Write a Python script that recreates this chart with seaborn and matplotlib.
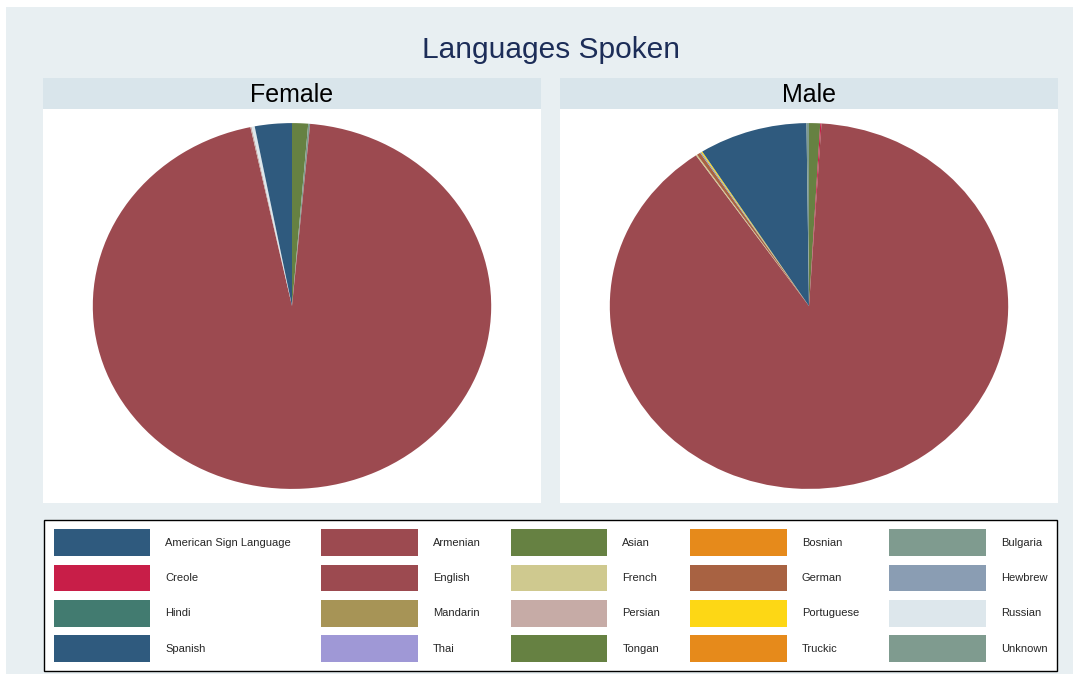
import matplotlib
matplotlib.use("Agg")
import matplotlib.pyplot as plt
import matplotlib.patches as mpatches
import seaborn as sns

sns.set_style("white")
plt.rcParams['font.family'] = ['Liberation Sans', 'DejaVu Sans']

languages = ["American Sign Language", "Armenian", "Asian", "Bosnian", "Bulgaria",
             "Creole", "English", "French", "German", "Hewbrew",
             "Hindi", "Mandarin", "Persian", "Portuguese", "Russian",
             "Spanish", "Thai", "Tongan", "Truckic", "Unknown"]
colors_hex = ["#2f5a7e", "#9c4a50", "#668142", "#e68a1b", "#7f9b8f",
              "#c81e48", "#9c4a50", "#cfc98f", "#a86242", "#8a9db3",
              "#427b70", "#a79456", "#c6aba6", "#fdd715", "#dde7ec",
              "#2f5a7e", "#9f98d6", "#668142", "#e68a1b", "#7f9b8f"]
female = [0, 0, 1.3, 0, 0.15,
          0, 95.2, 0, 0, 0,
          0, 0, 0.1, 0, 0.25,
          3.0, 0, 0, 0, 0]
male = [0, 0, 0.9, 0, 0,
        0.1, 89.4, 0.1, 0.3, 0.1,
        0, 0, 0, 0.1, 0,
        8.8, 0, 0, 0, 0.2]
panels = ["Female", "Male"]
title = "Languages Spoken"

palette = sns.color_palette(colors_hex)

W, H = 1073, 674
fig = plt.figure(figsize=(W / 100, H / 100), dpi=100, facecolor="white")

def px_axes(x0, y0, x1, y1, **kw):
    return fig.add_axes([x0 / W, 1 - y1 / H, (x1 - x0) / W, (y1 - y0) / H], **kw)

bg = "#e8eff2"
strip = "#d9e5eb"
fig.patches.append(mpatches.Rectangle((6 / W, 0), 1, 1 - 7 / H, transform=fig.transFigure,
                                      facecolor=bg, edgecolor="none", zorder=-10))

fig.text(551 / W, 1 - 50 / H, title, ha="center", va="center", fontsize=21.5, color="#1c2d58")

for i, (name, vals) in enumerate(zip(panels, [female, male])):
    x0 = 43 + i * 517
    x1 = x0 + 498
    hax = px_axes(x0, 78, x1, 109)
    hax.set_facecolor(strip)
    hax.set_xticks([]); hax.set_yticks([])
    for s in hax.spines.values():
        s.set_visible(False)
    hax.text(0.5, 0.45, name, ha="center", va="center", fontsize=18, color="black",
             transform=hax.transAxes)

    ax = px_axes(x0, 109, x1, 503)
    ax.pie(vals, colors=palette, startangle=90, counterclock=False,
           wedgeprops=dict(linewidth=0))
    ax.set_frame_on(True)
    ax.patch.set_facecolor("white")
    ax.patch.set_visible(True)
    ax.set_aspect("auto")
    ax.set_xlim(-1.25, 1.25)
    ax.set_ylim(-1.077, 1.077)
    ax.set_xticks([]); ax.set_yticks([])
    for s in ax.spines.values():
        s.set_visible(False)

# legend, row-major ordering in 5 columns
handles = [mpatches.Patch(facecolor=c, edgecolor="none") for c in palette]
ncol = 5
nrow = 4
order = [r * ncol + c for c in range(ncol) for r in range(nrow)]
leg = fig.legend([handles[k] for k in order], [languages[k] for k in order],
                 ncol=ncol, loc="center", bbox_to_anchor=(550.5 / W, 1 - 595.5 / H),
                 fontsize=8, handlelength=8.7, handleheight=3.3, handletextpad=1.35,
                 columnspacing=2.7, labelspacing=0.8, borderpad=0.85,
                 frameon=True, fancybox=False, edgecolor="black", framealpha=1)
leg.get_frame().set_linewidth(1.0)
leg.get_frame().set_facecolor("white")

fig.savefig("out.png", dpi=100, facecolor="white")
